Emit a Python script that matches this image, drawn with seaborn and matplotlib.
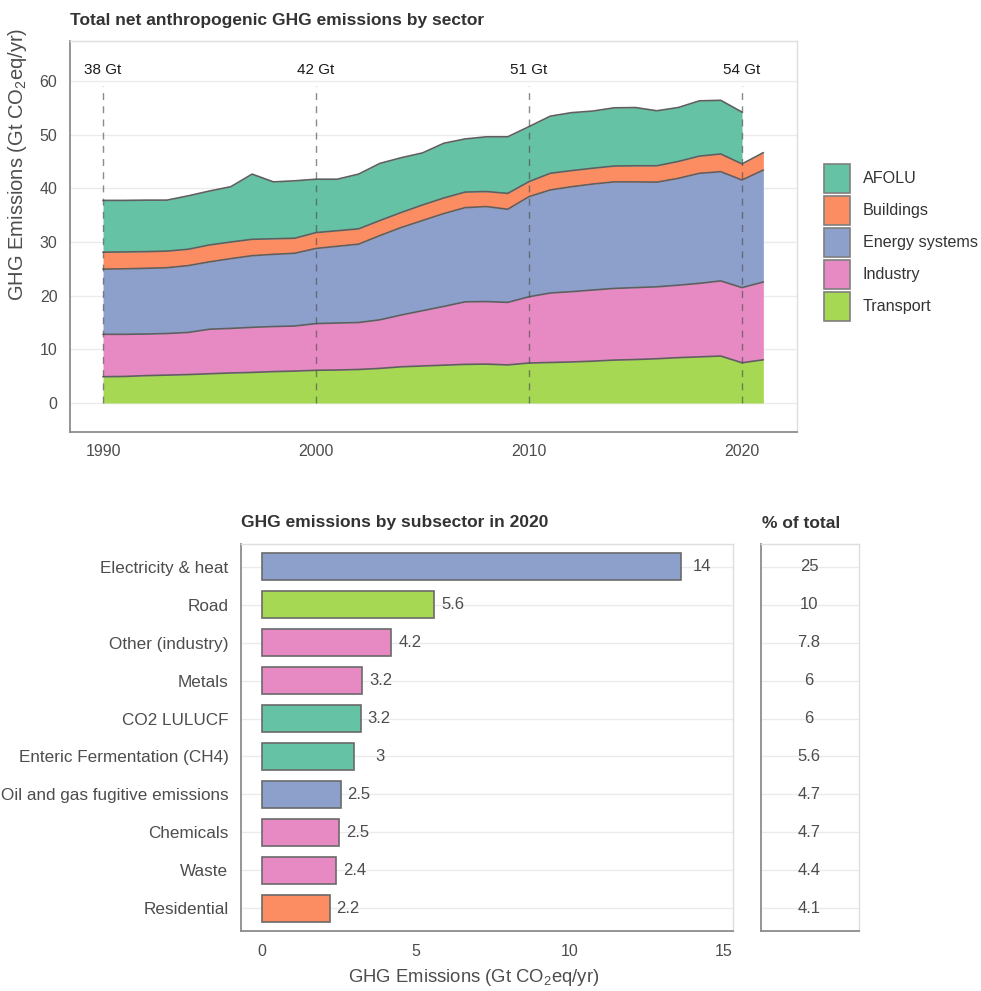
import numpy as np
import pandas as pd
import matplotlib
matplotlib.use("Agg")
import matplotlib.pyplot as plt
import seaborn as sns
from matplotlib.patches import Patch

# ---------------- data ----------------
years = list(range(1990, 2022))
transport = [4.9, 4.95, 5.1, 5.2, 5.3, 5.45, 5.6, 5.7, 5.85, 5.95, 6.1, 6.15, 6.25, 6.45, 6.75, 6.9,
             7.05, 7.2, 7.25, 7.1, 7.45, 7.55, 7.65, 7.8, 8.0, 8.1, 8.25, 8.45, 8.6, 8.75, 7.5, 8.05]
industry = [7.9, 7.85, 7.75, 7.75, 7.85, 8.3, 8.3, 8.4, 8.4, 8.4, 8.7, 8.75, 8.75, 9.05, 9.65, 10.3,
            10.95, 11.65, 11.65, 11.65, 12.35, 12.95, 13.1, 13.25, 13.35, 13.4, 13.4, 13.5, 13.7, 14.0, 14.0, 14.5]
energy = [12.15, 12.2, 12.25, 12.25, 12.45, 12.55, 13.0, 13.35, 13.45, 13.55, 14.0, 14.3, 14.6, 15.7, 16.3, 16.8,
          17.3, 17.55, 17.7, 17.35, 18.65, 19.2, 19.55, 19.75, 19.85, 19.7, 19.5, 19.9, 20.5, 20.35, 20.05, 20.85]
buildings = [3.15, 3.15, 3.1, 3.1, 3.05, 3.15, 3.1, 3.05, 2.9, 2.8, 2.95, 2.9, 2.85, 2.8, 2.8, 2.9,
             2.9, 2.9, 2.8, 2.95, 2.8, 3.1, 3.0, 2.95, 2.95, 3.0, 3.05, 3.15, 3.2, 3.3, 3.0, 3.25]
afolu = [9.65, 9.6, 9.6, 9.5, 9.95, 10.05, 10.3, 12.15, 10.6, 10.7, 9.95, 9.6, 10.2, 10.65, 10.2, 9.7,
         10.2, 9.9, 10.2, 10.55, 10.25, 10.65, 10.8, 10.65, 10.85, 10.85, 10.25, 10.05, 10.3, 10.0, 9.65, np.nan]

sectors = ["AFOLU", "Buildings", "Energy systems", "Industry", "Transport"]
sector_colors = ["#66c2a5", "#fc8d62", "#8da0cb", "#e78ac3", "#a6d854"]

marker_years = [1990, 2000, 2010, 2020]
marker_labels = ["38 Gt", "42 Gt", "51 Gt", "54 Gt"]

subsectors = ["Electricity & heat", "Road", "Other (industry)", "Metals", "CO2 LULUCF",
              "Enteric Fermentation (CH4)", "Oil and gas fugitive emissions", "Chemicals",
              "Waste", "Residential"]
subsector_values = [13.6, 5.6, 4.2, 3.25, 3.2, 3.0, 2.55, 2.5, 2.4, 2.2]
subsector_labels = ["14", "5.6", "4.2", "3.2", "3.2", "3", "2.5", "2.5", "2.4", "2.2"]
subsector_sector = ["Energy systems", "Transport", "Industry", "Industry", "AFOLU",
                    "AFOLU", "Energy systems", "Industry", "Industry", "Buildings"]
pct_labels = ["25", "10", "7.8", "6", "6", "5.6", "4.7", "4.7", "4.4", "4.1"]

# ---------------- style ----------------
sns.set_theme(style="white")
plt.rcParams["font.family"] = ["Liberation Sans", "DejaVu Sans"]
plt.rcParams["mathtext.fontset"] = "custom"
plt.rcParams["mathtext.rm"] = "Liberation Sans"
plt.rcParams["mathtext.it"] = "Liberation Sans:italic"
plt.rcParams["mathtext.bf"] = "Liberation Sans:bold"

color_of = dict(zip(sectors, sector_colors))
TXT = "#4d4d4d"
GRID = "#ebebeb"
AXLINE = "#8c8c8c"
BORDER = "#dedede"

W, H = 981, 991
fig = plt.figure(figsize=(W / 100, H / 100), dpi=100)


def rect(l, t, r, b):
    return [l / W, 1 - b / H, (r - l) / W, (b - t) / H]


def style_axes(ax):
    for s in ["left", "bottom"]:
        ax.spines[s].set_color(AXLINE)
        ax.spines[s].set_linewidth(1.3)
    for s in ["top", "right"]:
        ax.spines[s].set_color(BORDER)
        ax.spines[s].set_linewidth(1.0)
    ax.tick_params(colors=AXLINE, labelcolor=TXT, length=5, width=1, direction="out")


# ---------------- top: stacked area ----------------
ax1 = fig.add_axes(rect(70, 41, 797, 432))
style_axes(ax1)
ax1.tick_params(labelsize=11.5, pad=4)
ax1.set_axisbelow(True)
ax1.yaxis.grid(True, color=GRID, linewidth=1)
ax1.xaxis.grid(False)

yrs = np.array(years)
layers = [("Transport", transport), ("Industry", industry), ("Energy systems", energy),
          ("Buildings", buildings), ("AFOLU", afolu)]
base = np.zeros(len(years))
rows = []
for name, vals in layers:
    v = np.array(vals, dtype=float)
    mask = ~np.isnan(v)
    top = base + np.nan_to_num(v)
    ax1.fill_between(yrs[mask], base[mask], top[mask], color=color_of[name], linewidth=0, zorder=2)
    for yy, tt in zip(yrs[mask], top[mask]):
        rows.append({"year": yy, "top": tt, "layer": name})
    base = top
outline = pd.DataFrame(rows)
sns.lineplot(data=outline, x="year", y="top", units="layer", estimator=None,
             color="#5f5f5f", linewidth=1.2, ax=ax1, zorder=3)

ax1.vlines(marker_years, 0, 59, colors="#4d4d4d", linestyles=(0, (5, 4.5)),
           linewidth=1, alpha=0.65, zorder=4)
for yr, lbl in zip(marker_years, marker_labels):
    ax1.text(yr, 62.0, lbl, ha="center", va="center", fontsize=11, color="#1a1a1a")

ax1.set_xlim(1988.45, 2022.58)
ax1.set_ylim(-5.4, 67.45)
ax1.set_xticks(marker_years)
ax1.set_yticks([0, 10, 20, 30, 40, 50, 60])
ax1.set_xlabel("")
ax1.set_ylabel("")

fig.text(18 / W, 1 - 164 / H, "GHG Emissions (Gt CO$_2$eq/yr)", rotation=90,
         ha="center", va="center", fontsize=14.5, color=TXT)
fig.text(70 / W, 1 - 20 / H, "Total net anthropogenic GHG emissions by sector",
         ha="left", va="center", fontsize=12.5, fontweight="bold", color="#333333")

handles = [Patch(facecolor=c, edgecolor="#7f7f7f", linewidth=1.2, label=s)
           for s, c in zip(sectors, sector_colors)]
fs_leg = 11.6
px = fs_leg / 0.72
hh = (29 / px - 0.245) / 0.65
fig.legend(handles=handles, loc="upper left", bbox_to_anchor=(824 / W, 1 - 164 / H),
           frameon=False, fontsize=fs_leg, handlelength=26 / px, handleheight=hh,
           labelspacing=3.0 / px, handletextpad=12.7 / px, borderpad=0, borderaxespad=0,
           labelcolor="#333333")

# ---------------- bottom: bars ----------------
ax2 = fig.add_axes(rect(241, 544, 733, 931))
style_axes(ax2)
ax2.set_axisbelow(True)
bars = pd.DataFrame({"sub": subsectors, "val": subsector_values, "sector": subsector_sector})
sns.barplot(data=bars, x="val", y="sub", hue="sector", palette=color_of, dodge=False,
            errorbar=None, width=0.72, saturation=1, edgecolor="#6a6a6a", linewidth=1.2,
            legend=False, ax=ax2, zorder=3)
ax2.yaxis.grid(True, color=GRID, linewidth=1)
ax2.xaxis.grid(False)
for i, (v, lbl) in enumerate(zip(subsector_values, subsector_labels)):
    ax2.annotate(lbl, xy=(v, i), xytext=(30 * 0.72, 0), textcoords="offset points",
                 ha="right", va="center", fontsize=12, color=TXT, zorder=5)
ax2.set_xlim(-0.68, 15.29)
ax2.set_ylim(9.6, -0.6)
ax2.set_xticks([0, 5, 10, 15])
ax2.tick_params(axis="x", labelsize=11.5, pad=4)
ax2.tick_params(axis="y", labelsize=12.3, pad=4)
ax2.set_xlabel("")
ax2.set_ylabel("")

fig.text(473.5 / W, 1 - 982 / H, "GHG Emissions (Gt CO$_2$eq/yr)", ha="center",
         va="baseline", fontsize=13.3, color=TXT)
fig.text(241 / W, 1 - 523 / H, "GHG emissions by subsector in 2020", ha="left",
         va="center", fontsize=12.5, fontweight="bold", color="#333333")

# ---------------- bottom right: percent ----------------
ax3 = fig.add_axes(rect(761, 544, 859, 931))
style_axes(ax3)
ax3.set_axisbelow(True)
ax3.set_xlim(0, 1)
ax3.set_ylim(9.6, -0.6)
ax3.set_yticks(range(len(pct_labels)))
ax3.set_yticklabels([])
ax3.set_xticks([])
ax3.tick_params(length=0)
ax3.yaxis.grid(True, color=GRID, linewidth=1)
for i, lbl in enumerate(pct_labels):
    ax3.text(0.49, i, lbl, ha="center", va="center", fontsize=12, color=TXT)
fig.text(762 / W, 1 - 523 / H, "% of total", ha="left", va="center", fontsize=12.5,
         fontweight="bold", color="#333333")

fig.savefig("out.png", dpi=100)
